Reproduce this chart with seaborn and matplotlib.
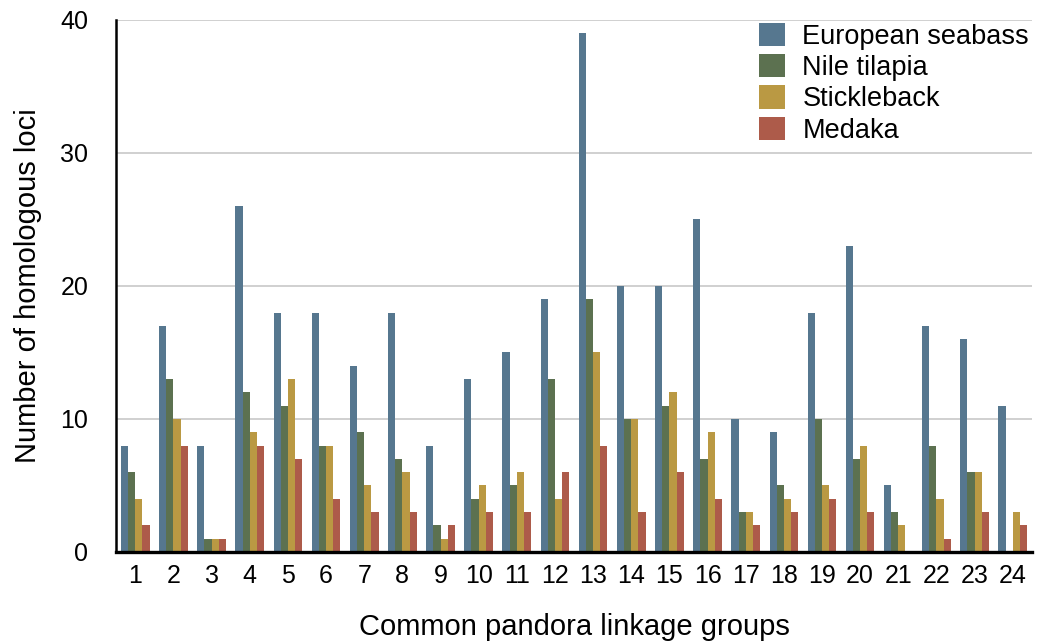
import numpy as np
import pandas as pd
import matplotlib
matplotlib.use('Agg')
import matplotlib.pyplot as plt
import seaborn as sns

#------------------------------------------------------------------------------
# DATA
#------------------------------------------------------------------------------

groups = [str(i) for i in range(1, 25)]
species = ['European seabass', 'Nile tilapia', 'Stickleback', 'Medaka']

seabass = [8, 17, 8, 26, 18, 18, 14, 18, 8, 13, 15, 19, 39, 20, 20, 25, 10, 9, 18, 23, 5, 17, 16, 11]
tilapia = [6, 13, 1, 12, 11, 8, 9, 7, 2, 4, 5, 13, 19, 10, 11, 7, 3, 5, 10, 7, 3, 8, 6, 0]
stickleback = [4, 10, 1, 9, 13, 8, 5, 6, 1, 5, 6, 4, 15, 10, 12, 9, 3, 4, 5, 8, 2, 4, 6, 3]
medaka = [2, 8, 1, 8, 7, 4, 3, 3, 2, 3, 3, 6, 8, 3, 6, 4, 2, 3, 4, 3, 0, 1, 3, 2]

colors = ['#56778f', '#5c7150', '#ba9943', '#ad5b4a']

# long form table for seaborn
df = pd.DataFrame({
    'group': groups * 4,
    'species': np.repeat(species, len(groups)),
    'count': seabass + tilapia + stickleback + medaka,
})

#------------------------------------------------------------------------------
# PLOTTING
#------------------------------------------------------------------------------

sns.set_style('white')
plt.rcParams['font.family'] = ['Liberation Sans', 'DejaVu Sans']
plt.rcParams['text.color'] = 'black'
plt.rcParams['axes.labelcolor'] = 'black'
plt.rcParams['xtick.color'] = 'black'
plt.rcParams['ytick.color'] = 'black'

fig = plt.figure(figsize=(10.38, 6.44), dpi=100)
ax = fig.add_axes([0.112, 0.143, 0.882, 0.826])

sns.barplot(data=df, x='group', y='count', hue='species', order=groups,
            hue_order=species, palette=colors, width=0.75, saturation=1,
            linewidth=0, ax=ax)

ax.set_ylim(0, 40)
ax.set_xlim(-0.5, 23.5)
ax.set_yticks([0, 10, 20, 30, 40])
ax.yaxis.grid(True, color='#c8c8c8', linewidth=1.2)
ax.set_axisbelow(True)
ax.tick_params(axis='both', length=0, labelsize=18)
ax.tick_params(axis='x', pad=9)
ax.tick_params(axis='y', pad=20)

for side in ['top', 'right']:
    ax.spines[side].set_visible(False)
ax.spines['left'].set_color('black')
ax.spines['left'].set_linewidth(1.8)
ax.spines['bottom'].set_color('black')
ax.spines['bottom'].set_linewidth(2.4)

ax.set_xlabel('Common pandora linkage groups', fontsize=21, labelpad=18)
ax.set_ylabel('Number of homologous loci', fontsize=21, labelpad=13)

leg = ax.legend(loc='upper right', frameon=False, fontsize=19.5, handlelength=0.95,
                handleheight=0.95, handletextpad=0.65, labelspacing=0.16,
                borderaxespad=0.0, borderpad=0.1, bbox_to_anchor=(1.0, 1.0))

fig.savefig('out.png', dpi=100)
plt.close(fig)
